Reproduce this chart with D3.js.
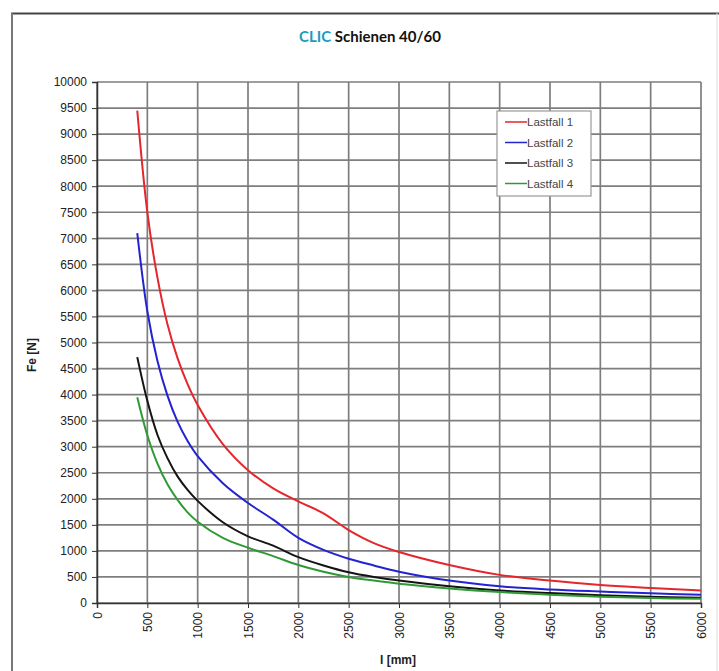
<!DOCTYPE html>
<html><head><meta charset="utf-8">
<script src="https://cdn.jsdelivr.net/npm/d3@7"></script>
<style>html,body{margin:0;padding:0;background:#fff;}</style>
</head><body>
<svg id="chart" width="719" height="671"></svg>
<script>
const xValues = [400,500,600,700,800,900,1000,1250,1500,1750,2000,2250,2500,2750,3000,3500,4000,4500,5000,5500,6000];
const lastfall1 = [9450,7500,6250,5350,4700,4200,3800,3050,2550,2200,1950,1720,1400,1150,980,730,540,430,345,290,240];
const lastfall2 = [7100,5600,4650,3980,3480,3110,2820,2300,1920,1600,1250,1020,850,720,600,430,320,260,220,185,160];
const lastfall3 = [4720,3880,3230,2780,2430,2170,1960,1550,1280,1100,880,720,590,500,430,320,240,190,150,120,100];
const lastfall4 = [3950,3220,2680,2280,1980,1740,1560,1250,1060,900,730,600,500,430,370,280,210,160,120,95,80];
const seriesNames = ["Lastfall 1","Lastfall 2","Lastfall 3","Lastfall 4"];
const seriesColors = ["#e5262c","#2323d2","#141414","#2f9a35"];
const xTicks = [0,500,1000,1500,2000,2500,3000,3500,4000,4500,5000,5500,6000];
const yTicks = d3.range(0,10001,500);

const svg = d3.select("#chart");
// outer frame
svg.append("line").attr("x1",11).attr("x2",719).attr("y1",13.5).attr("y2",13.5).attr("stroke","#444").attr("stroke-width",2);
svg.append("line").attr("x1",12).attr("x2",12).attr("y1",13).attr("y2",671).attr("stroke","#777").attr("stroke-width",2);
svg.append("line").attr("x1",717).attr("x2",717).attr("y1",13).attr("y2",671).attr("stroke","#ddd").attr("stroke-width",1);

// title
const title = svg.append("text").attr("x",370).attr("y",42).attr("text-anchor","middle")
  .attr("font-family","Lato, sans-serif").attr("font-weight","bold").attr("font-size",15);
title.append("tspan").attr("fill","#1d9bb8").text("CLIC");
title.append("tspan").attr("fill","#111").text(" Schienen 40/60");

const x = d3.scaleLinear().domain([0,6000]).range([97,701]);
const y = d3.scaleLinear().domain([0,10000]).range([603,82]);

// grid
const grid = svg.append("g");
grid.selectAll(".gx").data(xTicks).enter().append("line")
  .attr("x1",d=>x(d)).attr("x2",d=>x(d)).attr("y1",y(10000)).attr("y2",y(0))
  .attr("stroke","#7e7e7e").attr("stroke-width",1.7);
grid.selectAll(".gy").data(yTicks).enter().append("line")
  .attr("x1",x(0)).attr("x2",x(6000)).attr("y1",d=>y(d)).attr("y2",d=>y(d))
  .attr("stroke","#7e7e7e").attr("stroke-width",1.7);

// axes
const yAxis = svg.append("g").attr("transform",`translate(${x(0)},0)`)
  .call(d3.axisLeft(y).tickValues(yTicks).tickSize(5).tickPadding(5).tickFormat(d3.format("d")));
const xAxis = svg.append("g").attr("transform",`translate(0,${y(0)})`)
  .call(d3.axisBottom(x).tickValues(xTicks).tickSize(5).tickFormat(d3.format("d")));
[yAxis,xAxis].forEach(a=>{
  a.select(".domain").attr("stroke","#333").attr("stroke-width",1.5);
  a.selectAll(".tick line").attr("stroke","#333");
  a.selectAll("text").attr("font-family","'Liberation Sans', Arial, sans-serif").attr("font-size",12).attr("fill","#222");
});
xAxis.selectAll("text").attr("transform","rotate(-90)").attr("text-anchor","end")
  .attr("x",-9).attr("y",0).attr("dy","0.35em");

// axis labels
svg.append("text").attr("x",398).attr("y",664).attr("text-anchor","middle")
  .attr("font-family","'Liberation Sans', Arial, sans-serif").attr("font-weight","bold").attr("font-size",12).attr("fill","#222").text("l [mm]");
svg.append("text").attr("transform","translate(36,355) rotate(-90)").attr("text-anchor","middle")
  .attr("font-family","'Liberation Sans', Arial, sans-serif").attr("font-weight","bold").attr("font-size",12).attr("fill","#222").text("Fe [N]");

// lines
const allSeries = [lastfall1,lastfall2,lastfall3,lastfall4];
const line = d3.line().x((d,i)=>x(xValues[i])).y(d=>y(d)).curve(d3.curveCatmullRom.alpha(0.5));
allSeries.forEach((s,k)=>{
  svg.append("path").datum(s).attr("d",line).attr("fill","none")
    .attr("stroke",seriesColors[k]).attr("stroke-width",2);
});

// legend
const lg = svg.append("g").attr("transform","translate(497,111)");
lg.append("rect").attr("width",94).attr("height",85).attr("fill","#fff").attr("stroke","#999").attr("stroke-width",1.2);
seriesNames.forEach((n,k)=>{
  const yy = 11 + k*20.5;
  lg.append("line").attr("x1",8).attr("x2",30).attr("y1",yy).attr("y2",yy).attr("stroke",seriesColors[k]).attr("stroke-width",1.5);
  lg.append("text").attr("x",30).attr("y",yy).attr("dy","0.35em")
    .attr("font-family","'Liberation Sans', Arial, sans-serif").attr("font-size",11.5).attr("fill","#444").text(n);
});
</script>
</body></html>
